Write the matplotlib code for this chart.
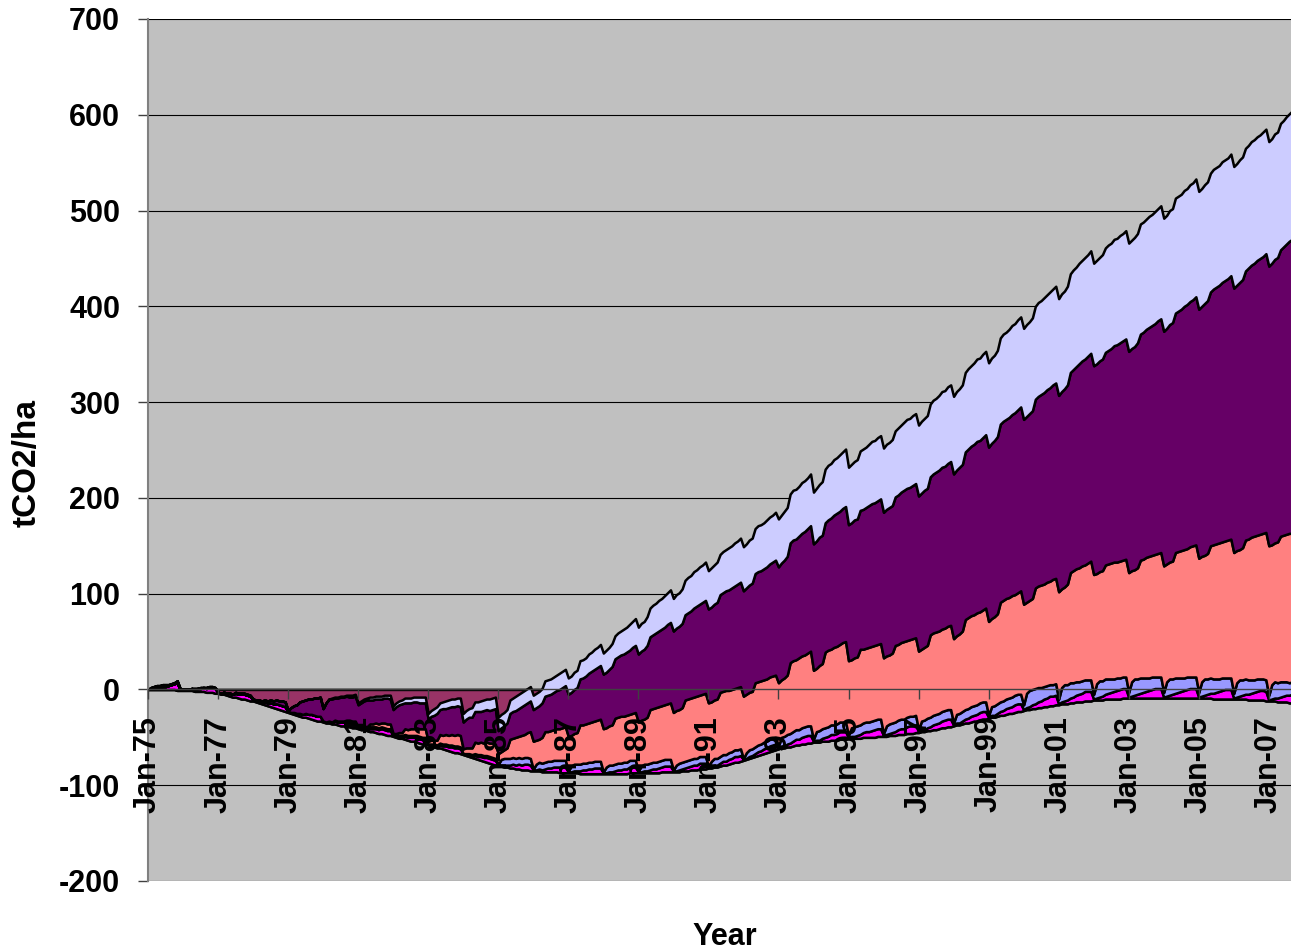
import numpy as np
import pandas as pd
import matplotlib
matplotlib.use("Agg")
import matplotlib.pyplot as plt


def read_rows(block):
    # one line per year, Jan..Dec (the last year stops at September)
    return np.array(block.split(), dtype=float)


months = pd.date_range("1975-01-01", "2007-09-01", freq="MS")

# monthly series, stacked bottom to top (tCO2/ha)
s1 = read_rows("""
0 0 0 0 0 0 0 0 0 0 -1 -1
-1 -1 -1 -1 -2 -2 -2 -2 -3 -3 -3 -4
-4 -5 -5 -6 -7 -8 -8 -9 -10 -10 -11 -12
-12 -13 -14 -15 -16 -17 -18 -19 -20 -21 -22 -23
-24 -25 -26 -27 -28 -29 -29 -30 -31 -32 -33 -33
-34 -35 -35 -36 -36 -37 -38 -38 -39 -39 -40 -40
-41 -42 -42 -43 -44 -44 -45 -46 -46 -47 -48 -48
-49 -50 -51 -51 -52 -53 -54 -54 -55 -56 -57 -57
-58 -59 -60 -61 -61 -62 -63 -64 -65 -66 -66 -67
-68 -69 -70 -71 -72 -73 -74 -75 -76 -77 -78 -79
-80 -80 -81 -81 -82 -82 -83 -83 -84 -84 -84 -85
-85 -85 -85 -86 -86 -86 -86 -86 -86 -87 -87 -87
-87 -87 -87 -87 -88 -88 -88 -88 -88 -88 -88 -88
-88 -88 -88 -88 -88 -88 -88 -88 -88 -87 -87 -87
-87 -87 -87 -87 -87 -87 -87 -87 -86 -86 -86 -86
-86 -86 -86 -85 -85 -85 -84 -84 -84 -83 -83 -83
-82 -82 -81 -81 -80 -79 -79 -78 -77 -76 -76 -75
-74 -73 -72 -71 -70 -69 -68 -67 -66 -65 -64 -63
-62 -61 -61 -60 -60 -59 -58 -58 -57 -57 -56 -56
-55 -55 -55 -54 -54 -54 -53 -53 -53 -52 -52 -52
-51 -51 -51 -51 -51 -50 -50 -50 -50 -50 -49 -49
-49 -49 -48 -48 -48 -47 -47 -47 -46 -46 -46 -45
-45 -44 -44 -43 -43 -42 -42 -41 -40 -40 -39 -39
-38 -37 -37 -36 -35 -35 -34 -33 -33 -32 -31 -31
-30 -29 -29 -28 -27 -27 -26 -25 -25 -24 -23 -23
-22 -21 -21 -20 -20 -19 -19 -18 -18 -17 -17 -16
-16 -15 -15 -15 -14 -14 -13 -13 -13 -12 -12 -12
-11 -11 -11 -11 -10 -10 -10 -10 -10 -10 -9 -9
-9 -9 -9 -9 -9 -9 -9 -9 -9 -9 -9 -9
-9 -9 -9 -9 -9 -9 -9 -9 -9 -9 -9 -9
-9 -9 -9 -9 -9 -10 -10 -10 -10 -10 -10 -10
-10 -10 -10 -10 -10 -11 -11 -11 -11 -11 -11 -12
-12 -12 -12 -13 -13 -13 -13 -14 -14
""")

s2 = read_rows("""
0 1 1 2 2 3 3 4 5 6 8 1
1 1 1 2 2 3 3 4 4 5 5 5
1 1 2 2 3 3 4 4 5 5 5 5
1 1 2 2 3 3 4 4 5 5 5 5
1 1 2 2 3 3 4 4 5 5 5 5
1 1 2 2 3 3 4 4 5 5 5 5
1 1 2 2 3 3 4 4 5 5 5 5
1 1 2 2 3 3 4 4 5 5 5 5
1 1 2 2 3 3 4 4 5 5 5 5
1 1 2 2 3 3 4 4 5 5 5 5
1 1 2 2 3 4 4 5 5 6 6 6
1 1 2 2 3 4 4 5 5 6 6 6
1 1 2 2 3 4 4 5 5 6 6 6
1 1 2 2 3 4 4 5 5 6 6 6
1 1 2 2 3 4 4 5 5 6 6 6
1 1 2 2 3 4 4 5 5 6 6 6
1 1 2 2 3 4 4 5 5 6 6 6
1 1 2 2 3 4 4 5 5 6 6 6
1 2 2 3 4 5 6 6 7 8 8 8
1 2 2 3 4 5 6 6 7 8 8 8
1 2 2 3 4 5 6 6 7 8 8 8
1 2 2 3 4 5 6 6 7 8 8 8
1 2 2 3 4 5 6 6 7 8 8 8
1 2 2 3 4 5 6 6 7 8 8 8
1 2 2 3 4 5 6 6 7 8 8 8
1 2 3 4 5 6 7 8 9 10 10 10
1 2 3 4 5 6 7 8 9 10 10 10
1 2 3 4 5 6 7 8 9 10 10 10
1 2 3 4 5 6 7 8 9 10 10 10
1 2 3 4 5 6 7 8 9 10 10 10
1 2 3 4 5 6 7 8 9 10 10 10
1 2 3 4 5 6 7 8 9 10 10 10
1 2 3 4 5 6 7 8 9
""")

s3 = read_rows("""
0 0 0 0 0 0 0 0 0 0 0 0
0 0 0 0 0 0 0 0 0 0 0 0
0 0 0 0 0 0 0 0 0 0 0 0
0 0 0 0 0 0 0 0 0 0 0 0
0 0 0 0 0 0 0 0 0 0 0 0
0 0 0 0 0 0 0 0 0 0 0 0
0 1 1 1 2 2 2 2 2 2 2 2
0 1 1 1 2 2 2 2 2 2 2 2
0 1 1 1 2 2 2 2 2 2 2 2
0 1 1 1 2 2 2 2 2 2 2 2
1 6 7 7 7 7 7 7 7 7 7 7
1 6 7 7 7 7 7 7 7 7 7 7
1 6 7 7 7 7 7 7 7 7 7 7
1 6 7 7 7 7 7 7 7 7 7 7
1 6 7 7 7 7 7 7 7 7 7 7
1 6 7 7 7 7 7 7 7 7 7 7
1 6 7 7 7 7 7 7 7 7 7 7
1 6 7 7 7 7 7 7 7 7 7 7
2 9 10 10 10 10 10 10 10 10 10 10
2 9 10 10 10 10 10 10 10 10 10 10
2 9 10 10 10 10 10 10 10 10 10 10
2 9 10 10 10 10 10 10 10 10 10 10
2 9 10 10 10 10 10 10 10 10 10 10
2 9 10 10 10 10 10 10 10 10 10 10
2 9 10 10 10 10 10 10 10 10 10 10
5 15 17 16 16 15 14 13 13 12 12 12
5 15 17 16 16 15 14 13 13 12 12 12
5 15 17 16 16 15 14 13 13 12 12 12
5 15 17 16 16 15 14 13 13 12 12 12
5 15 17 16 16 15 14 13 13 12 12 12
5 15 17 16 16 15 14 13 13 12 12 12
5 15 17 16 16 15 14 13 13 12 12 12
5 15 17 16 16 15 14 13 13
""")

s4 = read_rows("""
0 0 0 0 0 0 0 0 0 0 0 0
0 0 0 0 0 0 0 0 0 0 0 0
0 0 0 0 0 0 0 0 0 0 0 0
0 0 0 0 0 0 0 0 0 0 0 0
0 0 0 0 0 0 0 0 0 0 0 0
0 0 0 0 1 1 1 1 2 2 2 2
1 1 1 1 3 3 4 4 4 5 5 5
2 2 3 3 6 6 7 7 8 8 9 9
3 4 4 5 9 9 10 10 11 11 12 12
5 6 6 7 12 12 13 13 14 14 15 15
11 8 9 11 20 20 22 22 24 24 26 28
29 25 24 27 32 31 32 32 33 33 34 35
36 32 32 33 41 40 41 41 42 42 43 44
45 41 41 42 48 48 49 48 49 48 49 50
51 48 47 49 56 56 57 57 57 57 58 59
60 57 56 57 64 64 64 64 65 64 65 66
66 62 61 62 67 66 67 65 65 64 65 65
65 61 60 60 67 66 66 65 65 65 65 65
66 60 61 62 74 74 73 75 75 75 76 78
72 66 68 68 79 80 79 81 81 81 83 84
78 71 72 72 79 77 77 78 78 78 78 79
79 73 72 73 80 79 80 81 80 80 81 81
82 75 76 76 86 86 86 86 86 86 87 88
88 82 83 84 94 95 95 95 96 95 96 98
98 92 93 94 104 105 105 105 106 105 106 108
105 95 94 95 105 106 107 107 108 108 110 110
112 103 102 105 115 117 118 119 120 120 122 124
125 115 114 115 119 120 121 122 121 122 122 123
125 116 114 116 123 124 126 127 127 128 129 130
132 123 122 123 131 132 133 134 134 136 137 138
140 131 129 131 138 140 141 142 142 143 144 145
147 138 136 138 145 147 149 150 150 151 152 154
156 146 145 147 152 153 154 156 155
""")

s5 = read_rows("""
0 1 2 2 2 2 2 1 1 1 2 1
0 0 0 0 1 0 1 0 1 1 1 1
0 0 0 0 0 0 1 1 1 1 1 1
1 1 1 1 2 2 3 3 4 4 5 5
1 5 7 9 12 14 14 16 16 18 19 20
13 20 23 24 23 24 25 25 25 24 25 26
23 25 26 28 25 25 25 26 25 26 27 26
25 28 29 30 27 28 27 28 27 27 27 27
23 25 26 28 26 28 27 29 29 30 30 30
28 30 32 32 32 33 32 34 34 34 35 37
24 25 25 26 27 28 28 29 30 31 31 32
33 34 35 36 37 38 38 39 40 41 42 43
44 45 46 47 48 49 50 52 53 54 55 56
57 58 59 61 62 63 64 65 66 67 69 70
71 72 73 75 76 77 78 79 80 81 83 84
85 86 87 88 89 90 91 93 94 95 96 97
98 99 100 101 102 103 104 105 106 107 108 109
110 111 112 113 114 115 115 116 117 118 119 120
121 122 123 124 125 126 126 127 128 129 130 131
132 133 134 134 135 136 137 138 139 139 140 141
142 143 144 144 145 146 147 148 149 149 150 151
152 153 154 154 155 156 157 158 159 159 160 161
162 163 164 164 165 166 167 168 169 169 170 171
172 173 174 174 175 176 177 178 179 179 180 181
182 183 184 185 186 187 187 188 189 190 191 192
193 194 195 196 197 198 199 200 201 202 203 204
205 206 207 208 209 210 211 213 214 215 216 217
218 219 220 221 222 223 224 226 227 228 229 230
231 232 233 235 236 237 238 239 240 241 243 244
245 246 248 249 250 251 252 254 255 256 257 259
260 261 263 264 265 267 268 269 271 272 273 275
276 277 279 280 281 283 284 285 287 288 289 291
292 294 296 297 299 301 303 305 307
""")

s6 = read_rows("""
0 0 0 0 0 0 0 0 0 0 0 0
0 0 0 0 0 0 0 0 0 0 0 0
0 0 0 0 0 0 0 0 0 0 0 0
0 0 0 0 0 0 0 0 0 0 0 0
0 0 0 0 0 0 0 0 0 0 0 0
0 0 0 1 1 1 1 1 1 2 2 2
2 2 2 2 3 3 3 3 3 3 3 4
4 4 4 4 5 5 5 5 5 6 6 6
6 6 7 7 7 7 8 8 8 8 8 9
9 9 9 10 10 10 11 11 11 12 12 12
14 14 14 14 14 14 15 15 15 15 15 15
15 15 15 15 16 16 16 16 16 17 17 17
17 17 18 18 19 19 19 20 20 21 21 22
22 23 23 24 24 25 25 26 26 27 27 28
28 29 29 30 30 31 31 32 32 33 33 34
34 35 35 36 36 37 37 38 38 39 39 40
40 41 41 42 42 43 43 44 44 45 45 46
46 46 47 47 47 48 48 48 49 49 49 50
50 50 51 51 51 52 52 52 53 53 53 54
54 55 55 56 56 57 57 58 58 59 59 60
60 61 61 62 62 63 63 64 65 65 66 66
67 68 68 69 69 70 70 71 72 72 73 73
74 75 75 76 76 77 77 78 79 79 80 80
81 82 82 83 83 84 84 85 86 86 87 87
88 89 89 90 90 91 91 92 93 93 94 94
95 96 96 97 97 98 98 99 99 100 100 101
101 102 102 103 103 104 104 105 105 106 106 107
107 108 108 109 109 110 110 111 111 112 112 113
113 113 114 114 115 115 115 116 116 117 117 118
118 118 119 119 120 120 120 121 121 122 122 123
123 123 124 124 124 125 125 125 126 126 126 127
127 127 128 128 128 128 129 129 129 129 130 130
130 130 131 131 132 132 133 133 134
""")

series = [s1, s2, s3, s4, s5, s6]
colors = ["#993366", "#FF00FF", "#9999FF", "#FF8080", "#660066", "#CCCCFF"]
for s in series:
    assert len(s) == len(months), len(s)

plt.rcParams["font.family"] = ["Liberation Sans", "DejaVu Sans"]
plt.rcParams["font.weight"] = "bold"
plt.rcParams["axes.unicode_minus"] = False

fig = plt.figure(figsize=(12.91, 9.5), dpi=100)
ax = fig.add_axes([148 / 1291, 69 / 950, 1143 / 1291, 862 / 950])
ax.set_facecolor("#C0C0C0")

# category axis sits on the zero line, like the spreadsheet default
ax.spines["bottom"].set_position(("data", 0))
ax.spines["bottom"].set_color("#404040")
ax.spines["bottom"].set_linewidth(1.0)
ax.spines["left"].set_color("#808080")
ax.spines["left"].set_linewidth(1.5)
ax.spines["top"].set_visible(False)
ax.spines["right"].set_visible(False)

x = np.arange(len(months))
ax.stackplot(x, *series, colors=colors, edgecolor="black", linewidth=1.8)

ax.set_xlim(0, len(months) - 1.4)
ax.set_ylim(-200, 700)
ax.set_yticks(np.arange(-200, 701, 100))
ticks = x[::24]
ax.set_xticks(ticks)
ax.set_xticklabels([months[i].strftime("%b-%y") for i in ticks])

ax.yaxis.grid(True, color="black", linewidth=0.8)
ax.set_axisbelow(True)
ax.xaxis.set_zorder(2.6)

ax.tick_params(axis="x", direction="out", length=7, width=1, color="#404040",
               pad=12, labelsize=22, labelrotation=90)
ax.tick_params(axis="y", direction="out", length=7, width=1, color="#404040",
               pad=13, labelsize=22)

fig.text(27 / 1291, 1 - 463 / 950, "tCO2/ha", rotation=90, ha="center",
         va="center", fontsize=24, fontweight="bold")
fig.text(725 / 1291, 1 - 937 / 950, "Year", ha="center", va="center",
         fontsize=22, fontweight="bold")

fig.savefig("out.png", dpi=100)
